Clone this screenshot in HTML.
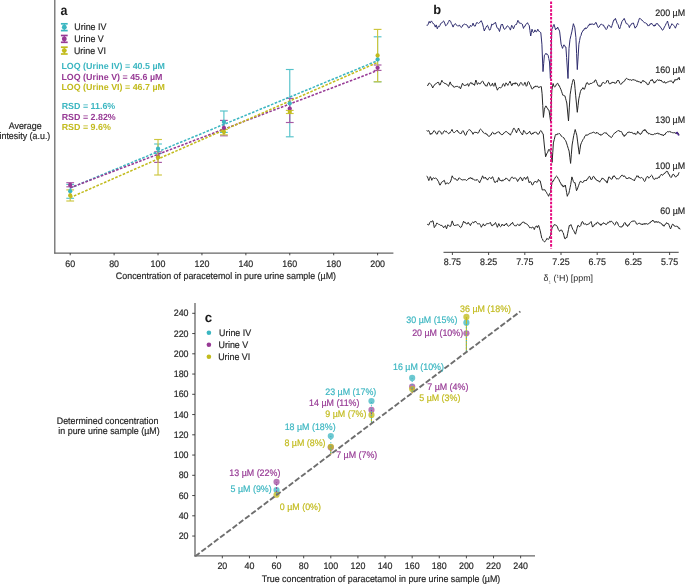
<!DOCTYPE html>
<html><head><meta charset="utf-8"><style>
html,body{margin:0;padding:0;background:#fff;width:685px;height:584px;overflow:hidden;}
svg{display:block;will-change:transform;text-rendering:geometricPrecision;font-family:"Liberation Sans",sans-serif;}
</style></head><body>
<svg width="685" height="584" viewBox="0 0 685 584">
<rect width="685" height="584" fill="#fff"/>
<line x1="54.80" y1="0.00" x2="54.80" y2="253.60" stroke="#666666" stroke-width="1.25" />
<line x1="54.20" y1="253.00" x2="393.40" y2="253.00" stroke="#666666" stroke-width="1.25" />
<line x1="70.20" y1="253.00" x2="70.20" y2="255.30" stroke="#333" stroke-width="0.9" />
<text transform="translate(70.20,266.80) scale(1,1.06)" font-size="8.9" fill="#262626" stroke="#262626" stroke-width="0.18" text-anchor="middle" >60</text>
<line x1="114.11" y1="253.00" x2="114.11" y2="255.30" stroke="#333" stroke-width="0.9" />
<text transform="translate(114.11,266.80) scale(1,1.06)" font-size="8.9" fill="#262626" stroke="#262626" stroke-width="0.18" text-anchor="middle" >80</text>
<line x1="158.03" y1="253.00" x2="158.03" y2="255.30" stroke="#333" stroke-width="0.9" />
<text transform="translate(158.03,266.80) scale(1,1.06)" font-size="8.9" fill="#262626" stroke="#262626" stroke-width="0.18" text-anchor="middle" >100</text>
<line x1="201.94" y1="253.00" x2="201.94" y2="255.30" stroke="#333" stroke-width="0.9" />
<text transform="translate(201.94,266.80) scale(1,1.06)" font-size="8.9" fill="#262626" stroke="#262626" stroke-width="0.18" text-anchor="middle" >120</text>
<line x1="245.86" y1="253.00" x2="245.86" y2="255.30" stroke="#333" stroke-width="0.9" />
<text transform="translate(245.86,266.80) scale(1,1.06)" font-size="8.9" fill="#262626" stroke="#262626" stroke-width="0.18" text-anchor="middle" >140</text>
<line x1="289.77" y1="253.00" x2="289.77" y2="255.30" stroke="#333" stroke-width="0.9" />
<text transform="translate(289.77,266.80) scale(1,1.06)" font-size="8.9" fill="#262626" stroke="#262626" stroke-width="0.18" text-anchor="middle" >160</text>
<line x1="333.69" y1="253.00" x2="333.69" y2="255.30" stroke="#333" stroke-width="0.9" />
<text transform="translate(333.69,266.80) scale(1,1.06)" font-size="8.9" fill="#262626" stroke="#262626" stroke-width="0.18" text-anchor="middle" >180</text>
<line x1="377.60" y1="253.00" x2="377.60" y2="255.30" stroke="#333" stroke-width="0.9" />
<text transform="translate(377.60,266.80) scale(1,1.06)" font-size="8.9" fill="#262626" stroke="#262626" stroke-width="0.18" text-anchor="middle" >200</text>
<text transform="translate(115.85,279.00) scale(1,1.06)" font-size="8.9" fill="#262626" stroke="#262626" stroke-width="0.18" text-anchor="start" >Concentration of paracetemol in pure urine sample (µM)</text>
<text transform="translate(8.70,129.00) scale(1,1.06)" font-size="8.9" fill="#262626" stroke="#262626" stroke-width="0.18" text-anchor="start" >Average</text>
<text transform="translate(-0.50,139.40) scale(1,1.06)" font-size="8.9" fill="#262626" stroke="#262626" stroke-width="0.18" text-anchor="start" >intesity (a.u.)</text>
<text x="60.60" y="15.00" font-size="14" fill="#1a1a1a" text-anchor="start" font-weight="bold" textLength="6.95" lengthAdjust="spacingAndGlyphs">a</text>
<line x1="64.30" y1="23.80" x2="64.30" y2="30.60" stroke="#3bb6c1" stroke-width="1.1" />
<line x1="60.90" y1="23.80" x2="67.70" y2="23.80" stroke="#3bb6c1" stroke-width="1.7" />
<line x1="60.90" y1="30.60" x2="67.70" y2="30.60" stroke="#3bb6c1" stroke-width="1.7" />
<circle cx="64.3" cy="27.20" r="2.45" fill="#3bb6c1"/>
<line x1="64.30" y1="35.50" x2="64.30" y2="42.30" stroke="#973a95" stroke-width="1.1" />
<line x1="60.90" y1="35.50" x2="67.70" y2="35.50" stroke="#973a95" stroke-width="1.7" />
<line x1="60.90" y1="42.30" x2="67.70" y2="42.30" stroke="#973a95" stroke-width="1.7" />
<circle cx="64.3" cy="38.90" r="2.45" fill="#973a95"/>
<line x1="64.30" y1="47.20" x2="64.30" y2="54.00" stroke="#c2bb1d" stroke-width="1.1" />
<line x1="60.90" y1="47.20" x2="67.70" y2="47.20" stroke="#c2bb1d" stroke-width="1.7" />
<line x1="60.90" y1="54.00" x2="67.70" y2="54.00" stroke="#c2bb1d" stroke-width="1.7" />
<circle cx="64.3" cy="50.60" r="2.45" fill="#c2bb1d"/>
<text transform="translate(74.35,29.80) scale(1,1.06)" font-size="8.9" fill="#262626" stroke="#262626" stroke-width="0.18" text-anchor="start" >Urine IV</text>
<text transform="translate(74.15,41.80) scale(1,1.06)" font-size="8.9" fill="#262626" stroke="#262626" stroke-width="0.18" text-anchor="start" >Urine V</text>
<text transform="translate(73.95,53.90) scale(1,1.06)" font-size="8.9" fill="#262626" stroke="#262626" stroke-width="0.18" text-anchor="start" >Urine VI</text>
<text x="61.40" y="69.00" font-size="8.9" fill="#3bb6c1" text-anchor="start" font-weight="bold" >LOQ (Urine IV) = 40.5 µM</text>
<text x="61.40" y="79.50" font-size="8.9" fill="#973a95" text-anchor="start" font-weight="bold" >LOQ (Urine V) = 45.6 µM</text>
<text x="61.40" y="90.00" font-size="8.9" fill="#c2bb1d" text-anchor="start" font-weight="bold" >LOQ (Urine VI) = 46.7 µM</text>
<text x="61.70" y="109.00" font-size="8.9" fill="#3bb6c1" text-anchor="start" font-weight="bold" >RSD = 11.6%</text>
<text x="61.70" y="119.50" font-size="8.9" fill="#973a95" text-anchor="start" font-weight="bold" >RSD = 2.82%</text>
<text x="61.70" y="130.00" font-size="8.9" fill="#c2bb1d" text-anchor="start" font-weight="bold" >RSD = 9.6%</text>
<g stroke="#55c2ca" stroke-width="1.15"><line x1="70.20" y1="184.40" x2="70.20" y2="198.30"/><line x1="66.30" y1="184.40" x2="74.10" y2="184.40"/><line x1="66.30" y1="198.30" x2="74.10" y2="198.30"/></g>
<g stroke="#55c2ca" stroke-width="1.15"><line x1="158.03" y1="144.00" x2="158.03" y2="153.40"/><line x1="154.13" y1="144.00" x2="161.93" y2="144.00"/><line x1="154.13" y1="153.40" x2="161.93" y2="153.40"/></g>
<g stroke="#55c2ca" stroke-width="1.15"><line x1="223.90" y1="111.00" x2="223.90" y2="132.40"/><line x1="220.00" y1="111.00" x2="227.80" y2="111.00"/><line x1="220.00" y1="132.40" x2="227.80" y2="132.40"/></g>
<g stroke="#55c2ca" stroke-width="1.15"><line x1="289.77" y1="69.50" x2="289.77" y2="136.80"/><line x1="285.87" y1="69.50" x2="293.67" y2="69.50"/><line x1="285.87" y1="136.80" x2="293.67" y2="136.80"/></g>
<g stroke="#55c2ca" stroke-width="1.15"><line x1="377.60" y1="36.80" x2="377.60" y2="81.80"/><line x1="373.70" y1="36.80" x2="381.50" y2="36.80"/><line x1="373.70" y1="81.80" x2="381.50" y2="81.80"/></g>
<g stroke="#a658a4" stroke-width="1.15"><line x1="70.20" y1="182.70" x2="70.20" y2="186.80"/><line x1="66.30" y1="182.70" x2="74.10" y2="182.70"/><line x1="66.30" y1="186.80" x2="74.10" y2="186.80"/></g>
<g stroke="#a658a4" stroke-width="1.15"><line x1="158.03" y1="151.80" x2="158.03" y2="162.40"/><line x1="154.13" y1="151.80" x2="161.93" y2="151.80"/><line x1="154.13" y1="162.40" x2="161.93" y2="162.40"/></g>
<g stroke="#a658a4" stroke-width="1.15"><line x1="223.90" y1="120.40" x2="223.90" y2="135.80"/><line x1="220.00" y1="120.40" x2="227.80" y2="120.40"/><line x1="220.00" y1="135.80" x2="227.80" y2="135.80"/></g>
<g stroke="#a658a4" stroke-width="1.15"><line x1="289.77" y1="98.40" x2="289.77" y2="122.50"/><line x1="285.87" y1="98.40" x2="293.67" y2="98.40"/><line x1="285.87" y1="122.50" x2="293.67" y2="122.50"/></g>
<g stroke="#a658a4" stroke-width="1.15"><line x1="377.60" y1="65.00" x2="377.60" y2="70.40"/><line x1="373.70" y1="65.00" x2="381.50" y2="65.00"/><line x1="373.70" y1="70.40" x2="381.50" y2="70.40"/></g>
<g stroke="#cdc63e" stroke-width="1.15"><line x1="70.20" y1="189.90" x2="70.20" y2="201.00"/><line x1="66.30" y1="189.90" x2="74.10" y2="189.90"/><line x1="66.30" y1="201.00" x2="74.10" y2="201.00"/></g>
<g stroke="#cdc63e" stroke-width="1.15"><line x1="158.03" y1="139.50" x2="158.03" y2="175.00"/><line x1="154.13" y1="139.50" x2="161.93" y2="139.50"/><line x1="154.13" y1="175.00" x2="161.93" y2="175.00"/></g>
<g stroke="#cdc63e" stroke-width="1.15"><line x1="223.90" y1="129.50" x2="223.90" y2="134.80"/><line x1="220.00" y1="129.50" x2="227.80" y2="129.50"/><line x1="220.00" y1="134.80" x2="227.80" y2="134.80"/></g>
<g stroke="#cdc63e" stroke-width="1.15"><line x1="289.77" y1="110.40" x2="289.77" y2="113.50"/><line x1="285.87" y1="110.40" x2="293.67" y2="110.40"/><line x1="285.87" y1="113.50" x2="293.67" y2="113.50"/></g>
<g stroke="#cdc63e" stroke-width="1.15"><line x1="377.60" y1="29.40" x2="377.60" y2="81.80"/><line x1="373.70" y1="29.40" x2="381.50" y2="29.40"/><line x1="373.70" y1="81.80" x2="381.50" y2="81.80"/></g>
<line x1="70.20" y1="188.00" x2="377.60" y2="60.70" stroke="#3bb6c1" stroke-width="1.55" stroke-dasharray="2.6 1.5"/>
<line x1="70.20" y1="187.80" x2="377.60" y2="70.50" stroke="#973a95" stroke-width="1.55" stroke-dasharray="2.6 1.5"/>
<line x1="70.20" y1="197.60" x2="377.60" y2="62.40" stroke="#c2bb1d" stroke-width="1.55" stroke-dasharray="2.6 1.5"/>
<circle cx="70.20" cy="191.20" r="2.15" fill="#3bb6c1"/>
<circle cx="158.03" cy="148.70" r="2.15" fill="#3bb6c1"/>
<circle cx="223.90" cy="122.00" r="2.15" fill="#3bb6c1"/>
<circle cx="289.77" cy="103.30" r="2.15" fill="#3bb6c1"/>
<circle cx="377.60" cy="59.40" r="2.15" fill="#3bb6c1"/>
<circle cx="70.20" cy="185.00" r="2.15" fill="#973a95"/>
<circle cx="158.03" cy="157.00" r="2.15" fill="#973a95"/>
<circle cx="223.90" cy="128.00" r="2.15" fill="#973a95"/>
<circle cx="289.77" cy="108.70" r="2.15" fill="#973a95"/>
<circle cx="377.60" cy="67.80" r="2.15" fill="#973a95"/>
<circle cx="70.20" cy="195.40" r="2.15" fill="#c2bb1d"/>
<circle cx="158.03" cy="157.30" r="2.15" fill="#c2bb1d"/>
<circle cx="223.90" cy="132.00" r="2.15" fill="#c2bb1d"/>
<circle cx="289.77" cy="111.90" r="2.15" fill="#c2bb1d"/>
<circle cx="377.60" cy="55.40" r="2.15" fill="#c2bb1d"/>
<text x="433.15" y="14.30" font-size="12.9" fill="#1a1a1a" text-anchor="start" font-weight="bold" >b</text>
<text transform="translate(655.35,15.80) scale(1,1.06)" font-size="8.9" fill="#262626" stroke="#262626" stroke-width="0.18" text-anchor="start" >200 µM</text>
<text transform="translate(655.35,72.70) scale(1,1.06)" font-size="8.9" fill="#262626" stroke="#262626" stroke-width="0.18" text-anchor="start" >160 µM</text>
<text transform="translate(655.35,123.40) scale(1,1.06)" font-size="8.9" fill="#262626" stroke="#262626" stroke-width="0.18" text-anchor="start" >130 µM</text>
<text transform="translate(655.35,168.70) scale(1,1.06)" font-size="8.9" fill="#262626" stroke="#262626" stroke-width="0.18" text-anchor="start" >100 µM</text>
<text transform="translate(660.30,213.80) scale(1,1.06)" font-size="8.9" fill="#262626" stroke="#262626" stroke-width="0.18" text-anchor="start" >60 µM</text>
<polyline points="426.60,25.30 427.25,25.48 427.90,24.90 428.55,23.15 429.20,21.40 430.10,23.10 430.75,21.74 431.40,20.90 432.30,22.30 432.95,23.56 433.60,23.60 434.50,24.90 435.30,27.10 436.20,24.90 437.30,28.80 438.40,26.20 439.40,26.60 440.00,25.30 440.60,23.60 441.70,23.10 442.60,21.80 443.60,20.90 444.70,23.10 445.60,25.80 446.70,24.90 447.35,24.33 448.00,22.70 448.65,21.81 449.30,20.10 450.00,20.94 450.70,21.40 451.35,23.46 452.00,24.50 453.10,27.10 454.20,24.50 454.85,24.23 455.50,23.60 456.15,24.90 456.80,25.30 457.45,25.95 458.10,26.20 458.75,25.76 459.40,24.90 460.30,26.65 461.20,27.50 462.05,26.93 462.90,24.90 463.80,24.69 464.70,24.00 465.55,24.56 466.40,24.50 467.05,25.74 467.70,25.80 468.35,27.71 469.00,28.00 469.70,27.20 470.40,25.30 471.05,26.18 471.70,26.20 472.35,25.48 473.00,23.10 474.10,25.80 475.20,26.20 475.85,24.45 476.50,22.70 477.15,22.88 477.80,22.70 478.55,23.45 479.30,22.70 479.97,22.39 480.63,21.12 481.30,20.70 481.95,22.35 482.60,24.00 483.45,27.50 484.30,31.00 485.10,29.02 485.90,27.50 486.70,26.03 487.50,25.30 488.13,26.90 488.77,28.50 489.40,30.10 490.05,29.97 490.70,28.40 491.80,24.00 492.90,24.90 493.55,24.28 494.20,23.10 494.85,23.26 495.50,22.30 496.15,24.70 496.80,27.10 497.55,28.35 498.30,28.40 498.90,29.95 499.50,31.50 500.35,28.00 501.20,24.50 501.80,24.66 502.40,24.00 503.00,26.00 503.60,28.00 504.30,29.18 505.00,29.30 505.77,28.33 506.53,26.77 507.30,25.80 508.00,26.16 508.70,27.10 509.55,27.97 510.40,30.10 511.05,27.70 511.70,25.30 512.60,26.60 513.50,28.80 514.15,27.05 514.80,25.30 515.65,24.53 516.50,24.50 517.20,22.40 517.90,20.30 518.55,21.14 519.20,23.10 520.05,22.88 520.90,23.60 521.55,23.44 522.20,24.00 522.85,26.20 523.50,28.40 524.23,26.39 524.97,26.44 525.70,24.50 526.60,23.92 527.50,22.70 528.35,24.55 529.20,25.30 529.95,30.65 530.70,36.00 531.35,32.60 532.00,29.20 532.70,31.42 533.40,32.60 534.20,32.01 535.00,29.90 535.70,31.56 536.40,31.90 537.10,30.90 537.80,29.20 538.50,31.04 539.20,31.20 540.00,32.13 540.80,32.60 541.90,44.20 543.00,71.60 543.70,63.40 544.40,55.20 545.20,54.64 546.00,53.20 546.70,54.55 547.40,54.28 548.10,55.20 548.80,58.60 549.50,62.00 550.40,78.50 551.10,53.85 551.80,29.20 552.53,28.09 553.27,25.82 554.00,24.40 554.80,27.15 555.60,29.90 556.30,28.35 557.00,28.72 557.70,27.10 558.37,29.25 559.03,29.54 559.70,31.90 560.40,38.05 561.10,44.20 561.80,46.30 562.50,48.40 563.15,46.65 563.80,44.90 564.50,45.23 565.20,46.94 565.90,47.00 566.60,57.50 567.30,68.00 568.00,78.50 569.00,48.40 570.00,39.50 570.90,35.70 571.80,31.90 572.60,27.80 573.40,23.70 574.10,25.75 574.80,27.80 575.90,37.40 576.60,53.50 577.30,69.60 578.10,56.90 578.90,44.20 579.60,40.45 580.30,36.70 580.97,35.67 581.63,32.94 582.30,31.90 583.00,30.30 583.70,30.37 584.40,28.50 585.08,29.14 585.75,27.67 586.42,28.59 587.10,27.80 587.80,26.64 588.50,25.10 589.17,25.39 589.85,23.80 590.53,24.90 591.20,23.70 591.90,24.60 592.60,23.70 593.30,24.65 594.00,24.40 594.67,24.32 595.33,22.83 596.00,22.30 596.70,24.05 597.40,25.80 598.30,27.60 599.17,26.97 600.03,25.13 600.90,24.30 601.77,24.30 602.63,24.96 603.50,25.00 604.17,26.84 604.85,27.06 605.53,28.77 606.20,29.60 607.07,28.49 607.93,25.77 608.80,25.00 609.67,25.66 610.53,27.20 611.40,27.60 612.07,25.40 612.73,23.20 613.40,21.00 614.07,19.60 614.73,20.04 615.40,18.40 616.03,20.17 616.67,21.93 617.30,23.70 618.10,24.71 618.90,27.92 619.70,28.90 620.43,26.50 621.17,24.10 621.90,21.70 622.67,20.26 623.43,19.94 624.20,18.40 624.90,20.17 625.60,21.93 626.30,23.70 627.05,23.60 627.80,24.30 628.60,25.18 629.40,27.60 630.10,25.48 630.80,25.26 631.50,23.70 632.13,23.74 632.77,22.92 633.40,23.00 634.25,25.60 635.10,28.20 635.73,27.02 636.37,26.96 637.00,25.60 637.80,23.20 638.60,20.80 639.40,18.40 640.30,18.49 641.20,19.70 642.00,20.03 642.80,21.19 643.60,21.70 644.47,22.81 645.33,22.62 646.20,23.70 647.00,23.79 647.80,25.78 648.60,25.60 649.33,25.58 650.05,23.79 650.77,24.23 651.50,23.00 652.37,24.72 653.23,25.01 654.10,26.30 654.77,24.87 655.45,25.70 656.12,23.59 656.80,23.70 657.67,23.62 658.53,25.39 659.40,25.60 660.23,27.18 661.05,27.68 661.88,29.64 662.70,30.20 663.57,28.86 664.43,26.94 665.30,25.60 666.03,23.77 666.77,22.80 667.50,21.00 668.20,23.63 668.90,26.27 669.60,28.90 670.37,26.78 671.13,25.62 671.90,23.70 672.53,24.48 673.17,24.71 673.80,25.60 674.60,26.68 675.40,28.20 676.25,25.95 677.10,23.70 677.77,23.50 678.43,24.27 679.10,24.30" fill="none" stroke="#2e2c6e" stroke-width="1.0" stroke-linejoin="round"/>
<polyline points="427.20,85.40 427.97,85.43 428.73,83.35 429.50,83.20 430.25,83.60 431.00,84.50 431.85,85.92 432.70,88.00 433.60,86.11 434.50,85.00 435.35,83.90 436.20,83.60 437.10,82.71 438.00,82.30 438.70,82.46 439.40,84.95 440.10,85.00 441.00,82.65 441.90,80.30 442.55,81.78 443.20,82.30 444.10,83.24 445.00,83.20 445.85,83.86 446.70,84.10 447.60,85.42 448.50,86.30 449.35,84.10 450.20,81.90 450.85,83.84 451.50,85.00 452.15,85.54 452.80,85.40 453.50,87.03 454.20,87.20 455.05,87.01 455.90,86.30 456.80,86.47 457.70,86.30 458.55,87.32 459.40,86.70 460.50,88.90 461.17,87.00 461.83,85.10 462.50,83.20 463.35,84.82 464.20,85.40 465.10,85.45 466.00,85.00 466.85,84.83 467.70,83.60 468.60,86.30 469.50,84.38 470.40,82.80 471.13,82.41 471.87,83.90 472.60,83.20 473.23,84.69 473.87,84.03 474.50,85.40 475.20,82.70 475.90,80.00 476.65,82.25 477.40,84.50 478.05,83.32 478.70,82.80 479.80,84.10 480.67,83.47 481.53,81.77 482.40,81.00 483.25,81.86 484.10,84.10 484.78,84.13 485.45,85.90 486.12,85.37 486.80,86.30 487.65,83.99 488.50,82.30 489.23,82.75 489.97,85.47 490.70,85.80 491.60,85.25 492.50,83.20 493.15,85.46 493.80,86.30 494.45,84.55 495.10,82.80 496.00,86.30 496.70,88.25 497.40,90.20 498.20,88.38 499.00,88.00 499.73,87.20 500.47,88.04 501.20,87.60 501.93,86.78 502.67,84.53 503.40,83.60 504.05,84.78 504.70,86.30 505.35,84.55 506.00,82.80 506.90,83.93 507.80,85.40 508.53,83.65 509.27,82.93 510.00,81.20 510.85,83.50 511.70,85.80 512.35,85.13 513.00,83.20 513.70,84.08 514.40,82.86 515.10,84.19 515.80,82.60 516.50,83.50 517.23,83.55 517.97,85.64 518.70,86.10 519.43,85.14 520.17,83.26 520.90,82.30 521.63,83.05 522.37,84.66 523.10,85.40 524.00,84.44 524.90,82.30 525.60,84.30 526.30,86.30 527.00,85.48 527.70,82.36 528.40,81.50 529.13,82.31 529.87,84.71 530.60,85.40 531.45,88.01 532.30,89.20 533.20,88.11 534.10,86.60 534.97,87.21 535.83,85.81 536.70,86.60 537.57,86.07 538.43,87.61 539.30,87.10 539.97,87.42 540.63,86.49 541.30,86.60 542.10,93.80 542.75,105.60 543.40,117.40 544.40,109.20 545.00,107.65 545.60,106.10 546.23,106.10 546.87,107.88 547.50,108.20 548.25,109.91 549.00,110.20 549.80,115.85 550.60,121.50 551.20,106.10 551.80,90.70 552.45,87.10 553.10,83.50 553.90,86.13 554.70,87.10 555.53,86.33 556.37,84.27 557.20,83.50 557.90,83.39 558.60,85.56 559.30,85.60 560.05,87.67 560.80,89.20 561.50,91.23 562.20,93.27 562.90,95.30 563.57,95.23 564.23,95.89 564.90,95.80 565.53,98.20 566.17,100.60 566.80,103.00 567.65,112.00 568.50,121.00 569.30,107.90 570.10,94.80 570.85,90.20 571.60,85.60 572.40,82.50 573.20,79.40 573.80,79.62 574.40,81.40 575.05,88.60 575.70,95.80 576.50,104.05 577.30,112.30 578.05,105.60 578.80,98.90 579.60,95.30 580.40,91.70 581.23,89.62 582.07,89.22 582.90,87.60 583.70,89.13 584.50,89.20 585.17,87.13 585.83,85.07 586.50,83.00 587.37,82.50 588.23,84.28 589.10,84.00 589.97,84.23 590.83,83.13 591.70,83.50 592.37,82.76 593.03,82.66 593.70,82.00 594.40,82.13 595.10,80.00 595.80,79.90 596.47,81.60 597.13,83.30 597.80,85.00 598.53,86.12 599.27,85.40 600.00,86.80 600.73,85.30 601.45,85.46 602.17,82.92 602.90,82.60 603.77,82.50 604.63,83.33 605.50,83.20 606.17,82.49 606.83,80.75 607.50,80.00 608.17,80.74 608.83,82.93 609.50,83.90 610.30,83.84 611.10,82.66 611.90,83.19 612.70,81.90 613.38,82.62 614.05,82.08 614.73,83.43 615.40,83.20 616.27,82.98 617.13,80.76 618.00,80.20 618.87,80.74 619.73,83.37 620.60,84.20 621.47,84.09 622.33,82.42 623.20,82.30 623.98,81.16 624.75,80.81 625.52,79.10 626.30,78.40 627.17,78.55 628.03,79.71 628.90,79.30 629.77,80.00 630.63,79.69 631.50,80.60 632.27,79.51 633.03,80.27 633.80,79.30 634.67,80.34 635.53,80.12 636.40,81.30 637.27,80.76 638.13,82.00 639.00,81.30 639.67,82.16 640.33,82.02 641.00,83.20 641.67,81.88 642.33,81.54 643.00,80.20 643.87,81.69 644.73,81.29 645.60,82.60 646.47,82.72 647.33,84.62 648.20,84.60 648.87,84.29 649.53,81.94 650.20,81.30 650.87,80.05 651.53,80.47 652.20,79.30 652.83,81.11 653.47,81.27 654.10,83.20 654.77,82.08 655.45,82.42 656.12,80.77 656.80,80.60 657.67,79.49 658.53,80.64 659.40,79.70 660.23,81.01 661.05,79.99 661.88,81.68 662.70,81.90 663.53,82.62 664.35,81.44 665.17,83.16 666.00,82.60 666.87,82.61 667.73,81.90 668.60,81.90 669.47,81.01 670.33,81.23 671.20,80.60 671.87,81.79 672.53,82.13 673.20,83.20 673.83,81.28 674.47,81.30 675.10,79.30 675.77,80.31 676.43,79.51 677.10,80.00 677.77,78.45 678.43,78.81 679.10,77.30 679.70,80.00" fill="none" stroke="#262626" stroke-width="1.0" stroke-linejoin="round"/>
<polyline points="426.60,130.60 427.25,131.05 427.90,131.00 428.80,130.60 429.55,132.55 430.30,134.50 430.97,133.17 431.63,134.19 432.30,132.80 433.03,132.50 433.77,130.78 434.50,131.00 435.27,131.60 436.03,133.56 436.80,134.10 437.47,133.98 438.13,131.43 438.80,131.20 439.45,131.09 440.10,131.50 440.77,131.98 441.43,133.88 442.10,134.30 442.77,133.59 443.43,131.81 444.10,131.00 444.83,130.69 445.57,131.79 446.30,131.20 447.10,132.36 447.90,133.20 448.53,133.74 449.17,132.74 449.80,133.20 450.53,131.77 451.27,131.05 452.00,129.40 452.85,131.59 453.70,132.60 454.60,132.56 455.50,131.50 456.35,131.00 457.20,130.10 458.10,132.04 459.00,132.30 459.85,133.60 460.70,133.50 461.43,133.36 462.17,131.34 462.90,130.60 463.77,131.86 464.63,133.98 465.50,135.40 466.23,134.63 466.97,132.13 467.70,131.00 468.60,130.11 469.50,129.70 470.35,130.15 471.20,131.50 472.10,132.11 473.00,134.30 473.85,132.58 474.70,132.30 475.38,132.19 476.05,133.00 476.72,132.18 477.40,133.20 478.00,133.20 478.83,132.38 479.67,129.83 480.50,129.10 481.13,129.52 481.77,130.56 482.40,131.00 483.25,132.58 484.10,132.90 484.78,133.57 485.45,133.15 486.12,134.38 486.80,133.80 487.65,135.54 488.50,136.10 489.37,136.44 490.23,135.16 491.10,135.00 491.80,132.90 492.50,132.30 493.20,132.60 493.90,134.05 494.60,133.80 495.33,133.97 496.07,132.81 496.80,132.90 497.70,131.86 498.60,131.90 499.35,132.05 500.10,133.80 500.77,133.76 501.43,134.64 502.10,134.70 502.95,134.32 503.80,132.90 504.53,132.75 505.27,131.74 506.00,131.50 506.73,131.70 507.47,132.62 508.20,132.90 508.93,133.96 509.67,134.06 510.40,135.20 511.20,133.39 512.00,132.30 512.75,130.35 513.50,128.40 514.15,128.22 514.80,129.40 515.65,130.80 516.50,132.90 517.17,130.77 517.83,129.91 518.50,128.00 519.60,131.00 520.25,131.56 520.90,132.90 521.70,133.79 522.50,135.00 523.10,132.65 523.70,130.30 524.53,131.14 525.37,132.79 526.20,133.80 527.05,134.01 527.90,132.90 528.80,132.59 529.70,131.20 530.35,132.93 531.00,134.10 532.10,134.20 532.77,133.02 533.43,133.60 534.10,132.10 534.80,132.56 535.50,131.84 536.20,132.80 536.87,132.81 537.53,134.23 538.20,134.20 539.07,133.73 539.93,131.37 540.80,130.60 541.60,131.16 542.40,133.36 543.20,133.80 543.80,139.90 544.40,146.00 545.00,151.40 545.60,156.80 546.30,155.00 547.00,153.20 547.75,152.24 548.50,149.60 549.10,149.99 549.70,149.60 550.40,151.90 551.10,154.20 552.10,162.40 552.75,152.65 553.40,142.90 554.30,139.30 555.20,135.70 555.87,134.33 556.53,135.08 557.20,133.80 558.07,134.40 558.93,133.37 559.80,133.80 560.55,134.61 561.30,136.20 562.17,136.55 563.03,137.51 563.90,137.80 564.77,139.70 565.63,140.53 566.50,142.90 567.37,145.63 568.23,148.37 569.10,151.10 569.85,157.25 570.60,163.40 571.35,154.20 572.10,145.00 572.90,140.35 573.70,135.70 574.45,132.60 575.20,129.50 576.00,132.35 576.80,135.20 577.55,141.10 578.30,147.00 579.30,154.20 579.95,149.60 580.60,145.00 581.50,142.57 582.40,140.80 583.17,139.26 583.95,138.46 584.73,136.24 585.50,135.70 586.20,134.61 586.90,135.65 587.60,134.70 588.35,134.65 589.10,133.58 589.85,133.86 590.60,133.10 591.38,133.32 592.15,132.34 592.93,132.81 593.70,132.10 594.35,132.68 595.00,132.60 595.87,133.62 596.73,132.17 597.60,133.20 598.42,133.24 599.25,134.67 600.08,134.10 600.90,135.50 601.77,134.37 602.63,134.37 603.50,133.20 604.17,133.20 604.85,132.48 605.53,133.23 606.20,132.60 607.07,134.20 607.93,134.51 608.80,135.90 609.67,135.96 610.53,137.19 611.40,137.60 612.07,136.93 612.73,135.39 613.40,134.60 614.27,133.27 615.13,132.98 616.00,131.90 616.87,131.63 617.73,130.67 618.60,130.60 619.27,130.61 619.95,131.81 620.62,131.05 621.30,131.90 622.02,132.37 622.75,134.81 623.48,134.70 624.20,136.50 624.95,134.91 625.70,135.27 626.45,133.65 627.20,133.20 628.07,131.93 628.93,132.59 629.80,131.90 630.62,132.88 631.45,131.95 632.27,133.06 633.10,133.20 633.92,134.18 634.75,132.93 635.58,134.54 636.40,134.20 637.05,133.41 637.70,131.30 638.57,133.12 639.43,133.25 640.30,134.60 640.97,133.26 641.65,133.45 642.33,131.39 643.00,131.30 643.63,129.92 644.27,130.70 644.90,129.30 645.57,130.96 646.23,130.73 646.90,132.60 647.73,132.37 648.55,134.04 649.38,133.49 650.20,134.20 651.07,134.16 651.93,134.71 652.80,134.60 653.62,134.65 654.45,133.68 655.27,134.29 656.10,133.20 656.92,133.84 657.75,132.81 658.58,134.09 659.40,133.60 660.18,134.69 660.96,134.03 661.74,135.13 662.52,134.73 663.30,135.90 664.12,134.40 664.95,134.75 665.77,132.90 666.60,132.60 667.47,131.56 668.33,131.93 669.20,131.30 670.03,132.29 670.85,131.62 671.67,132.48 672.50,132.60 673.33,133.09 674.15,132.24 674.97,133.34 675.80,133.20 676.47,133.67 677.13,131.97 677.80,132.60 678.45,133.40 679.10,135.20" fill="none" stroke="#262626" stroke-width="1.0" stroke-linejoin="round"/>
<polyline points="426.60,176.20 427.40,176.60 428.10,178.60 428.80,180.60 429.55,178.60 430.30,176.60 431.05,178.03 431.80,180.30 432.45,178.66 433.10,178.00 433.80,177.77 434.50,178.80 435.35,177.91 436.20,178.40 437.10,179.12 438.00,181.00 438.67,181.80 439.33,184.00 440.00,185.20 440.75,184.00 441.50,182.30 442.35,181.98 443.20,181.00 444.30,180.30 444.95,182.30 445.60,184.30 446.40,183.08 447.20,183.20 447.90,182.84 448.60,183.75 449.30,183.20 450.05,182.26 450.80,181.00 451.50,178.40 452.20,175.80 452.95,177.29 453.70,178.40 454.60,178.84 455.50,178.60 456.35,180.07 457.20,180.30 457.93,180.17 458.67,178.14 459.40,178.00 460.30,178.50 461.20,179.70 462.05,179.49 462.90,180.30 463.80,179.52 464.70,179.70 465.55,179.67 466.40,180.60 467.30,179.72 468.20,179.30 469.00,177.92 469.80,178.39 470.60,177.50 471.27,178.93 471.93,177.89 472.60,179.30 473.47,179.27 474.33,180.04 475.20,179.70 476.07,180.62 476.93,179.27 477.80,180.30 478.70,181.14 479.60,182.90 480.35,180.96 481.10,179.70 481.85,177.75 482.60,175.80 483.70,178.40 484.55,178.05 485.40,177.10 486.13,178.91 486.87,178.80 487.60,180.10 488.50,178.24 489.40,177.50 490.25,177.90 491.10,178.80 491.90,177.28 492.70,176.80 493.33,178.63 493.97,180.47 494.60,182.30 495.50,182.47 496.40,181.00 497.40,181.90 498.00,179.70 498.60,177.50 499.45,179.01 500.30,181.00 501.07,180.18 501.85,181.31 502.62,179.93 503.40,180.60 504.17,179.41 504.95,179.81 505.73,178.17 506.50,178.40 507.15,178.56 507.80,179.70 508.60,180.28 509.40,181.20 510.10,179.65 510.80,178.40 511.50,177.26 512.20,177.10 512.85,177.48 513.50,178.80 514.15,178.04 514.80,178.00 515.65,178.15 516.50,178.80 517.60,181.50 518.30,180.54 519.00,178.80 519.63,178.74 520.27,177.20 520.90,177.50 521.70,179.10 522.50,181.00 523.25,178.57 524.00,177.50 524.85,177.71 525.70,179.40 526.60,177.77 527.50,176.60 528.35,179.70 529.20,182.80 529.90,181.55 530.60,181.90 531.27,182.28 531.93,184.75 532.60,185.00 533.35,183.85 534.10,182.00 534.85,181.91 535.60,181.00 536.25,182.18 536.90,182.50 537.65,181.80 538.40,179.40 539.30,180.71 540.20,180.90 540.90,183.97 541.60,187.03 542.30,190.10 543.13,189.53 543.97,190.22 544.80,189.60 545.60,191.24 546.40,192.20 547.13,193.75 547.87,194.71 548.60,196.30 549.50,193.77 550.40,192.70 551.20,187.60 552.00,182.50 552.67,181.12 553.33,181.24 554.00,179.40 554.80,178.62 555.60,176.86 556.40,176.10 557.25,176.74 558.10,178.40 558.97,179.65 559.83,181.88 560.70,183.00 561.53,185.19 562.37,184.96 563.20,187.10 563.90,185.68 564.60,186.29 565.30,185.00 565.97,188.77 566.63,192.53 567.30,196.30 568.05,194.21 568.80,193.70 569.43,190.63 570.07,187.57 570.70,184.50 571.30,180.70 571.90,176.90 572.65,179.20 573.40,181.50 574.20,182.81 575.00,182.50 575.75,186.60 576.50,190.70 577.25,189.43 578.00,187.10 578.70,185.23 579.40,183.37 580.10,181.50 580.93,181.18 581.77,182.35 582.60,182.50 583.40,182.11 584.20,180.40 584.87,181.03 585.53,180.06 586.20,180.90 586.98,179.15 587.75,178.95 588.52,177.27 589.30,176.30 589.97,176.70 590.63,178.94 591.30,179.90 592.00,179.18 592.70,177.11 593.40,176.30 594.07,176.64 594.73,178.37 595.40,178.40 596.20,180.03 597.00,180.00 597.87,181.07 598.73,180.86 599.60,182.20 600.47,180.41 601.33,179.87 602.20,177.90 602.88,178.85 603.55,178.68 604.23,179.74 604.90,180.00 605.63,181.33 606.37,181.28 607.10,183.10 607.95,180.00 608.80,176.90 609.67,177.17 610.53,178.74 611.40,179.20 612.08,179.08 612.75,176.55 613.42,176.96 614.10,175.60 614.97,177.05 615.83,177.72 616.70,179.20 617.57,178.65 618.43,178.92 619.30,178.20 620.17,177.41 621.03,175.88 621.90,175.20 622.67,175.29 623.45,176.60 624.23,175.70 625.00,176.90 625.75,177.23 626.50,178.90 627.17,178.21 627.85,178.84 628.53,177.63 629.20,177.90 630.07,177.82 630.93,178.95 631.80,178.90 632.67,179.76 633.53,179.89 634.40,180.90 635.27,178.31 636.13,177.60 637.00,175.60 637.67,176.60 638.35,176.01 639.03,177.85 639.70,177.60 640.57,178.00 641.43,177.46 642.30,177.90 643.10,178.78 643.90,180.73 644.70,181.50 645.43,180.43 646.17,177.62 646.90,176.90 647.77,176.39 648.63,178.13 649.50,177.60 650.17,176.97 650.83,175.83 651.50,175.20 652.37,175.89 653.23,178.64 654.10,179.20 654.77,179.43 655.45,178.14 656.12,178.60 656.80,178.20 657.67,178.42 658.53,177.00 659.40,177.60 660.05,175.67 660.70,175.20 661.57,174.15 662.43,175.43 663.30,174.30 664.04,174.02 664.78,172.87 665.52,172.76 666.26,171.38 667.00,171.30 667.73,171.67 668.47,174.11 669.20,174.30 670.05,176.61 670.90,177.60 671.67,177.10 672.43,174.71 673.20,174.30 674.07,174.70 674.93,176.57 675.80,176.90 676.47,176.64 677.13,175.34 677.80,175.60 678.45,173.95 679.10,172.30" fill="none" stroke="#262626" stroke-width="1.0" stroke-linejoin="round"/>
<polyline points="427.20,224.10 428.00,224.86 428.80,225.00 429.80,222.50 430.60,221.51 431.40,222.10 432.20,220.90 433.00,220.90 433.65,224.25 434.30,227.60 434.95,226.44 435.60,226.00 436.20,224.50 436.80,223.00 437.70,223.46 438.60,224.40 439.45,224.52 440.30,225.30 441.20,225.05 442.10,226.00 442.85,226.26 443.60,227.80 444.50,226.47 445.40,225.60 446.50,228.80 447.20,226.75 447.90,224.70 448.60,225.55 449.30,226.00 450.00,226.62 450.70,226.20 451.45,223.55 452.20,220.90 452.95,222.95 453.70,225.00 454.43,225.76 455.17,224.98 455.90,225.60 456.53,224.89 457.17,225.37 457.80,224.40 458.60,225.36 459.40,226.00 460.05,227.16 460.70,227.60 461.35,227.07 462.00,225.60 462.80,223.40 463.60,221.20 464.35,222.47 465.10,222.10 465.85,223.55 466.60,223.80 467.40,223.82 468.20,222.30 468.93,223.88 469.67,224.19 470.40,225.60 471.05,223.98 471.70,223.00 472.55,222.18 473.40,223.00 474.13,221.76 474.87,222.17 475.60,221.20 476.50,222.57 477.40,223.60 478.20,224.27 479.00,223.31 479.80,224.10 480.55,225.26 481.30,227.30 481.97,225.80 482.63,225.58 483.30,223.80 484.15,225.50 485.00,225.60 485.90,224.81 486.80,223.40 487.65,223.67 488.50,223.60 489.40,223.34 490.30,222.30 490.95,223.95 491.60,225.60 492.33,225.84 493.07,224.57 493.80,225.00 494.65,223.46 495.50,222.50 496.13,224.10 496.77,225.70 497.40,227.30 498.10,225.45 498.80,223.60 499.70,225.86 500.60,226.70 501.35,226.07 502.10,224.10 502.83,225.24 503.57,225.07 504.30,226.00 505.03,224.24 505.77,224.50 506.50,223.20 507.35,225.42 508.20,226.20 508.87,226.21 509.53,225.29 510.20,225.30 511.00,223.62 511.80,223.66 512.60,222.30 513.25,224.32 513.90,224.70 514.53,225.70 515.17,225.42 515.80,226.20 516.60,224.94 517.40,224.30 518.30,224.61 519.20,225.80 519.83,224.38 520.47,225.01 521.10,223.40 521.87,223.22 522.63,222.11 523.40,222.10 524.17,222.17 524.93,223.67 525.70,223.20 526.43,224.05 527.17,224.21 527.90,225.00 528.80,226.21 529.70,227.80 530.60,227.52 531.50,228.10 532.30,226.97 533.10,227.40 533.70,227.73 534.30,229.60 535.20,227.19 536.10,226.10 536.75,226.00 537.40,227.60 538.05,225.75 538.70,225.50 539.45,228.10 540.20,230.70 541.00,234.50 541.80,238.30 542.47,238.95 543.13,240.65 543.80,241.40 544.55,241.96 545.30,240.90 546.10,240.27 546.90,238.30 547.65,238.97 548.40,239.30 549.07,238.75 549.73,236.55 550.40,235.80 551.20,231.95 552.00,228.10 552.77,226.49 553.53,226.08 554.30,224.50 555.07,225.10 555.83,225.01 556.60,225.50 557.43,226.89 558.27,229.36 559.10,230.70 559.80,231.32 560.50,230.06 561.20,230.10 561.87,230.14 562.53,232.13 563.20,232.70 563.95,235.65 564.70,238.60 565.40,238.73 566.10,237.34 566.80,237.80 567.63,233.70 568.47,229.60 569.30,225.50 570.10,225.73 570.90,224.50 571.57,226.20 572.23,227.90 572.90,229.60 573.77,230.68 574.63,232.85 575.50,234.20 576.27,231.30 577.03,228.40 577.80,225.50 578.50,225.39 579.20,226.64 579.90,226.60 580.70,225.69 581.50,222.91 582.30,221.50 582.93,221.93 583.57,223.94 584.20,224.00 584.95,224.25 585.70,223.71 586.45,224.94 587.20,224.30 587.90,224.79 588.60,223.72 589.30,223.70 590.20,222.43 591.10,221.50 591.80,224.30 592.50,227.10 593.13,226.04 593.77,226.16 594.40,224.50 595.07,224.66 595.73,223.49 596.40,224.00 597.00,222.37 597.60,222.30 598.42,222.71 599.25,224.24 600.08,223.88 600.90,225.50 601.77,223.95 602.63,223.90 603.50,222.60 604.17,223.75 604.85,223.23 605.53,224.44 606.20,224.60 607.03,223.93 607.85,222.27 608.67,222.92 609.50,221.30 610.37,222.09 611.23,220.89 612.10,221.90 612.97,222.77 613.83,224.28 614.70,225.00 615.37,224.45 616.03,222.11 616.70,221.90 617.57,222.62 618.43,225.39 619.30,226.50 620.17,227.06 621.03,226.52 621.90,227.20 622.58,225.55 623.25,225.70 623.92,223.47 624.60,222.60 625.35,222.86 626.10,225.22 626.85,224.80 627.60,226.50 628.33,224.83 629.05,225.13 629.77,223.20 630.50,222.60 631.37,221.56 632.23,221.67 633.10,220.60 633.77,221.53 634.43,220.86 635.10,221.30 635.73,221.98 636.37,223.91 637.00,224.20 637.67,224.22 638.35,223.40 639.03,223.47 639.70,223.00 640.57,224.20 641.43,223.96 642.30,225.00 643.17,223.56 644.03,224.57 644.90,223.20 645.58,224.29 646.25,223.36 646.92,224.16 647.60,224.20 648.47,223.98 649.33,222.83 650.20,222.90 651.07,221.29 651.93,221.43 652.80,220.00 653.47,221.18 654.13,221.29 654.80,222.60 655.47,221.58 656.13,222.36 656.80,221.30 657.67,222.51 658.53,221.62 659.40,222.90 660.27,222.62 661.13,223.80 662.00,223.90 662.67,225.44 663.33,225.14 664.00,226.30 664.87,224.52 665.73,224.24 666.60,222.60 667.27,223.70 667.93,223.18 668.60,223.90 669.23,225.57 669.87,227.23 670.50,228.90 671.17,227.66 671.83,225.44 672.50,224.20 673.37,224.51 674.23,226.10 675.10,225.90 675.77,226.60 676.45,225.82 677.12,226.78 677.80,226.50 678.57,228.31 679.33,227.93 680.10,229.40" fill="none" stroke="#262626" stroke-width="1.0" stroke-linejoin="round"/>
<polyline points="675.9,133.3 676.9,132.4 677.6,133.5 678.7,135.5" fill="none" stroke="#4a2394" stroke-width="1.4" stroke-linejoin="round"/>
<line x1="551.10" y1="1.50" x2="551.10" y2="248.50" stroke="#e6097f" stroke-width="2.0" stroke-dasharray="2.6 1.25"/>
<line x1="443.50" y1="252.30" x2="678.70" y2="252.30" stroke="#666666" stroke-width="1.3" />
<line x1="452.40" y1="252.30" x2="452.40" y2="255.00" stroke="#333" stroke-width="0.9" />
<text transform="translate(452.40,264.70) scale(1,1.06)" font-size="8.9" fill="#262626" stroke="#262626" stroke-width="0.18" text-anchor="middle" >8.75</text>
<line x1="488.60" y1="252.30" x2="488.60" y2="255.00" stroke="#333" stroke-width="0.9" />
<text transform="translate(488.60,264.70) scale(1,1.06)" font-size="8.9" fill="#262626" stroke="#262626" stroke-width="0.18" text-anchor="middle" >8.25</text>
<line x1="524.80" y1="252.30" x2="524.80" y2="255.00" stroke="#333" stroke-width="0.9" />
<text transform="translate(524.80,264.70) scale(1,1.06)" font-size="8.9" fill="#262626" stroke="#262626" stroke-width="0.18" text-anchor="middle" >7.75</text>
<line x1="561.00" y1="252.30" x2="561.00" y2="255.00" stroke="#333" stroke-width="0.9" />
<text transform="translate(561.00,264.70) scale(1,1.06)" font-size="8.9" fill="#262626" stroke="#262626" stroke-width="0.18" text-anchor="middle" >7.25</text>
<line x1="597.20" y1="252.30" x2="597.20" y2="255.00" stroke="#333" stroke-width="0.9" />
<text transform="translate(597.20,264.70) scale(1,1.06)" font-size="8.9" fill="#262626" stroke="#262626" stroke-width="0.18" text-anchor="middle" >6.75</text>
<line x1="633.40" y1="252.30" x2="633.40" y2="255.00" stroke="#333" stroke-width="0.9" />
<text transform="translate(633.40,264.70) scale(1,1.06)" font-size="8.9" fill="#262626" stroke="#262626" stroke-width="0.18" text-anchor="middle" >6.25</text>
<line x1="669.60" y1="252.30" x2="669.60" y2="255.00" stroke="#333" stroke-width="0.9" />
<text transform="translate(669.60,264.70) scale(1,1.06)" font-size="8.9" fill="#262626" stroke="#262626" stroke-width="0.18" text-anchor="middle" >5.75</text>
<text x="543.5" y="281.3" font-size="8.9" fill="#262626">δ<tspan font-size="4.6" dy="2.2" fill="#888">1</tspan><tspan dy="-2.2"> (</tspan><tspan font-size="4.6" dy="-3.2">1</tspan><tspan dy="3.2">H) [ppm]</tspan></text>
<line x1="195.00" y1="303.00" x2="195.00" y2="556.50" stroke="#666666" stroke-width="1.3" />
<line x1="194.40" y1="555.90" x2="535.00" y2="555.90" stroke="#666666" stroke-width="1.3" />
<line x1="192.20" y1="536.05" x2="195.00" y2="536.05" stroke="#333" stroke-width="0.9" />
<text transform="translate(178.65,539.05) scale(1,1.06)" font-size="8.9" fill="#262626" stroke="#262626" stroke-width="0.18" text-anchor="start" >20</text>
<line x1="222.32" y1="555.90" x2="222.32" y2="558.30" stroke="#333" stroke-width="0.9" />
<text transform="translate(222.32,569.20) scale(1,1.06)" font-size="8.9" fill="#262626" stroke="#262626" stroke-width="0.18" text-anchor="middle" >20</text>
<line x1="192.20" y1="515.80" x2="195.00" y2="515.80" stroke="#333" stroke-width="0.9" />
<text transform="translate(178.65,518.80) scale(1,1.06)" font-size="8.9" fill="#262626" stroke="#262626" stroke-width="0.18" text-anchor="start" >40</text>
<line x1="249.44" y1="555.90" x2="249.44" y2="558.30" stroke="#333" stroke-width="0.9" />
<text transform="translate(249.44,569.20) scale(1,1.06)" font-size="8.9" fill="#262626" stroke="#262626" stroke-width="0.18" text-anchor="middle" >40</text>
<line x1="192.20" y1="495.55" x2="195.00" y2="495.55" stroke="#333" stroke-width="0.9" />
<text transform="translate(178.65,498.55) scale(1,1.06)" font-size="8.9" fill="#262626" stroke="#262626" stroke-width="0.18" text-anchor="start" >60</text>
<line x1="276.56" y1="555.90" x2="276.56" y2="558.30" stroke="#333" stroke-width="0.9" />
<text transform="translate(276.56,569.20) scale(1,1.06)" font-size="8.9" fill="#262626" stroke="#262626" stroke-width="0.18" text-anchor="middle" >60</text>
<line x1="192.20" y1="475.30" x2="195.00" y2="475.30" stroke="#333" stroke-width="0.9" />
<text transform="translate(178.65,478.30) scale(1,1.06)" font-size="8.9" fill="#262626" stroke="#262626" stroke-width="0.18" text-anchor="start" >80</text>
<line x1="303.68" y1="555.90" x2="303.68" y2="558.30" stroke="#333" stroke-width="0.9" />
<text transform="translate(303.68,569.20) scale(1,1.06)" font-size="8.9" fill="#262626" stroke="#262626" stroke-width="0.18" text-anchor="middle" >80</text>
<line x1="192.20" y1="455.05" x2="195.00" y2="455.05" stroke="#333" stroke-width="0.9" />
<text transform="translate(173.70,458.05) scale(1,1.06)" font-size="8.9" fill="#262626" stroke="#262626" stroke-width="0.18" text-anchor="start" >100</text>
<line x1="330.80" y1="555.90" x2="330.80" y2="558.30" stroke="#333" stroke-width="0.9" />
<text transform="translate(330.80,569.20) scale(1,1.06)" font-size="8.9" fill="#262626" stroke="#262626" stroke-width="0.18" text-anchor="middle" >100</text>
<line x1="192.20" y1="434.80" x2="195.00" y2="434.80" stroke="#333" stroke-width="0.9" />
<text transform="translate(173.70,437.80) scale(1,1.06)" font-size="8.9" fill="#262626" stroke="#262626" stroke-width="0.18" text-anchor="start" >120</text>
<line x1="357.92" y1="555.90" x2="357.92" y2="558.30" stroke="#333" stroke-width="0.9" />
<text transform="translate(357.92,569.20) scale(1,1.06)" font-size="8.9" fill="#262626" stroke="#262626" stroke-width="0.18" text-anchor="middle" >120</text>
<line x1="192.20" y1="414.55" x2="195.00" y2="414.55" stroke="#333" stroke-width="0.9" />
<text transform="translate(173.70,417.55) scale(1,1.06)" font-size="8.9" fill="#262626" stroke="#262626" stroke-width="0.18" text-anchor="start" >140</text>
<line x1="385.04" y1="555.90" x2="385.04" y2="558.30" stroke="#333" stroke-width="0.9" />
<text transform="translate(385.04,569.20) scale(1,1.06)" font-size="8.9" fill="#262626" stroke="#262626" stroke-width="0.18" text-anchor="middle" >140</text>
<line x1="192.20" y1="394.30" x2="195.00" y2="394.30" stroke="#333" stroke-width="0.9" />
<text transform="translate(173.70,397.30) scale(1,1.06)" font-size="8.9" fill="#262626" stroke="#262626" stroke-width="0.18" text-anchor="start" >160</text>
<line x1="412.16" y1="555.90" x2="412.16" y2="558.30" stroke="#333" stroke-width="0.9" />
<text transform="translate(412.16,569.20) scale(1,1.06)" font-size="8.9" fill="#262626" stroke="#262626" stroke-width="0.18" text-anchor="middle" >160</text>
<line x1="192.20" y1="374.05" x2="195.00" y2="374.05" stroke="#333" stroke-width="0.9" />
<text transform="translate(173.70,377.05) scale(1,1.06)" font-size="8.9" fill="#262626" stroke="#262626" stroke-width="0.18" text-anchor="start" >180</text>
<line x1="439.28" y1="555.90" x2="439.28" y2="558.30" stroke="#333" stroke-width="0.9" />
<text transform="translate(439.28,569.20) scale(1,1.06)" font-size="8.9" fill="#262626" stroke="#262626" stroke-width="0.18" text-anchor="middle" >180</text>
<line x1="192.20" y1="353.80" x2="195.00" y2="353.80" stroke="#333" stroke-width="0.9" />
<text transform="translate(173.70,356.80) scale(1,1.06)" font-size="8.9" fill="#262626" stroke="#262626" stroke-width="0.18" text-anchor="start" >200</text>
<line x1="466.40" y1="555.90" x2="466.40" y2="558.30" stroke="#333" stroke-width="0.9" />
<text transform="translate(466.40,569.20) scale(1,1.06)" font-size="8.9" fill="#262626" stroke="#262626" stroke-width="0.18" text-anchor="middle" >200</text>
<line x1="192.20" y1="333.55" x2="195.00" y2="333.55" stroke="#333" stroke-width="0.9" />
<text transform="translate(173.70,336.55) scale(1,1.06)" font-size="8.9" fill="#262626" stroke="#262626" stroke-width="0.18" text-anchor="start" >220</text>
<line x1="493.52" y1="555.90" x2="493.52" y2="558.30" stroke="#333" stroke-width="0.9" />
<text transform="translate(493.52,569.20) scale(1,1.06)" font-size="8.9" fill="#262626" stroke="#262626" stroke-width="0.18" text-anchor="middle" >220</text>
<line x1="192.20" y1="313.30" x2="195.00" y2="313.30" stroke="#333" stroke-width="0.9" />
<text transform="translate(173.70,316.30) scale(1,1.06)" font-size="8.9" fill="#262626" stroke="#262626" stroke-width="0.18" text-anchor="start" >240</text>
<line x1="520.64" y1="555.90" x2="520.64" y2="558.30" stroke="#333" stroke-width="0.9" />
<text transform="translate(520.64,569.20) scale(1,1.06)" font-size="8.9" fill="#262626" stroke="#262626" stroke-width="0.18" text-anchor="middle" >240</text>
<text transform="translate(261.70,582.10) scale(1,1.06)" font-size="8.9" fill="#262626" stroke="#262626" stroke-width="0.18" text-anchor="start" >True concentration of paracetamol in pure urine sample (µM)</text>
<text transform="translate(56.77,423.70) scale(1,1.06)" font-size="8.9" fill="#262626" stroke="#262626" stroke-width="0.18" text-anchor="start" >Determined concentration</text>
<text transform="translate(58.35,433.70) scale(1,1.06)" font-size="8.9" fill="#262626" stroke="#262626" stroke-width="0.18" text-anchor="start" >in pure urine sample (µM)</text>
<text x="204.70" y="322.20" font-size="13.3" fill="#1a1a1a" text-anchor="start" font-weight="bold" >c</text>
<circle cx="208.9" cy="332.80" r="2.3" fill="#3bb6c1"/>
<circle cx="208.9" cy="344.75" r="2.3" fill="#973a95"/>
<circle cx="208.9" cy="356.70" r="2.3" fill="#c2bb1d"/>
<text transform="translate(219.05,335.50) scale(1,1.06)" font-size="8.9" fill="#262626" stroke="#262626" stroke-width="0.18" text-anchor="start" >Urine IV</text>
<text transform="translate(218.55,347.50) scale(1,1.06)" font-size="8.9" fill="#262626" stroke="#262626" stroke-width="0.18" text-anchor="start" >Urine V</text>
<text transform="translate(218.15,359.70) scale(1,1.06)" font-size="8.9" fill="#262626" stroke="#262626" stroke-width="0.18" text-anchor="start" >Urine VI</text>
<circle cx="276.56" cy="489.98" r="3.1" fill="#3bb6c1" fill-opacity="0.75"/>
<circle cx="276.56" cy="481.88" r="3.1" fill="#973a95" fill-opacity="0.68"/>
<circle cx="276.56" cy="494.74" r="3.1" fill="#c2bb1d" fill-opacity="0.78"/>
<circle cx="330.80" cy="436.12" r="3.1" fill="#3bb6c1" fill-opacity="0.75"/>
<circle cx="330.80" cy="447.46" r="3.1" fill="#973a95" fill-opacity="0.68"/>
<circle cx="330.80" cy="446.75" r="3.1" fill="#c2bb1d" fill-opacity="0.78"/>
<circle cx="371.48" cy="401.08" r="3.1" fill="#3bb6c1" fill-opacity="0.75"/>
<circle cx="371.48" cy="409.89" r="3.1" fill="#973a95" fill-opacity="0.68"/>
<circle cx="371.48" cy="414.95" r="3.1" fill="#c2bb1d" fill-opacity="0.78"/>
<circle cx="412.16" cy="377.90" r="3.1" fill="#3bb6c1" fill-opacity="0.75"/>
<circle cx="412.16" cy="386.71" r="3.1" fill="#973a95" fill-opacity="0.68"/>
<circle cx="412.16" cy="389.03" r="3.1" fill="#c2bb1d" fill-opacity="0.78"/>
<circle cx="466.40" cy="322.72" r="3.1" fill="#3bb6c1" fill-opacity="0.75"/>
<circle cx="466.40" cy="333.25" r="3.1" fill="#973a95" fill-opacity="0.68"/>
<circle cx="466.40" cy="316.94" r="3.1" fill="#c2bb1d" fill-opacity="0.78"/>
<line x1="276.56" y1="495.33" x2="276.56" y2="481.88" stroke="#973a95" stroke-width="1.05" stroke-dasharray="1.6 1.6"/>
<line x1="276.56" y1="495.33" x2="276.56" y2="494.74" stroke="#c2bb1d" stroke-width="1.1" />
<line x1="276.56" y1="495.33" x2="276.56" y2="489.98" stroke="#3bb6c1" stroke-width="1.05" stroke-dasharray="1.1 2.1" stroke-dashoffset="1.6"/>
<line x1="330.80" y1="454.48" x2="330.80" y2="447.46" stroke="#973a95" stroke-width="1.05" stroke-dasharray="1.6 1.6"/>
<line x1="330.80" y1="454.48" x2="330.80" y2="446.75" stroke="#c2bb1d" stroke-width="1.1" />
<line x1="330.80" y1="454.48" x2="330.80" y2="436.12" stroke="#3bb6c1" stroke-width="1.05" stroke-dasharray="1.1 2.1" stroke-dashoffset="1.6"/>
<line x1="371.48" y1="423.85" x2="371.48" y2="409.89" stroke="#973a95" stroke-width="1.05" stroke-dasharray="1.6 1.6"/>
<line x1="371.48" y1="423.85" x2="371.48" y2="414.95" stroke="#c2bb1d" stroke-width="1.1" />
<line x1="371.48" y1="423.85" x2="371.48" y2="401.08" stroke="#3bb6c1" stroke-width="1.05" stroke-dasharray="1.1 2.1" stroke-dashoffset="1.6"/>
<line x1="412.16" y1="393.21" x2="412.16" y2="386.71" stroke="#973a95" stroke-width="1.05" stroke-dasharray="1.6 1.6"/>
<line x1="412.16" y1="393.21" x2="412.16" y2="389.03" stroke="#c2bb1d" stroke-width="1.1" />
<line x1="412.16" y1="393.21" x2="412.16" y2="377.90" stroke="#3bb6c1" stroke-width="1.05" stroke-dasharray="1.1 2.1" stroke-dashoffset="1.6"/>
<line x1="466.40" y1="352.37" x2="466.40" y2="333.25" stroke="#973a95" stroke-width="1.05" stroke-dasharray="1.6 1.6"/>
<line x1="466.40" y1="352.37" x2="466.40" y2="316.94" stroke="#c2bb1d" stroke-width="1.1" />
<line x1="466.40" y1="352.37" x2="466.40" y2="322.72" stroke="#3bb6c1" stroke-width="1.05" stroke-dasharray="1.1 2.1" stroke-dashoffset="1.6"/>
<line x1="195.20" y1="556.30" x2="520.40" y2="311.40" stroke="#6e6e6e" stroke-width="1.9" stroke-dasharray="5.6 2.2"/>
<text transform="translate(229.35,476.10) scale(1,1.06)" font-size="8.9" fill="#973a95" stroke="#973a95" stroke-width="0.18" text-anchor="start" >13 µM (22%)</text>
<text transform="translate(230.55,492.10) scale(1,1.06)" font-size="8.9" fill="#3bb6c1" stroke="#3bb6c1" stroke-width="0.18" text-anchor="start" >5 µM (9%)</text>
<text transform="translate(279.85,509.80) scale(1,1.06)" font-size="8.9" fill="#c2bb1d" stroke="#c2bb1d" stroke-width="0.18" text-anchor="start" >0 µM (0%)</text>
<text transform="translate(284.65,430.10) scale(1,1.06)" font-size="8.9" fill="#3bb6c1" stroke="#3bb6c1" stroke-width="0.18" text-anchor="start" >18 µM (18%)</text>
<text transform="translate(284.45,445.70) scale(1,1.06)" font-size="8.9" fill="#c2bb1d" stroke="#c2bb1d" stroke-width="0.18" text-anchor="start" >8 µM (8%)</text>
<text transform="translate(336.15,458.20) scale(1,1.06)" font-size="8.9" fill="#973a95" stroke="#973a95" stroke-width="0.18" text-anchor="start" >7 µM (7%)</text>
<text transform="translate(325.25,394.50) scale(1,1.06)" font-size="8.9" fill="#3bb6c1" stroke="#3bb6c1" stroke-width="0.18" text-anchor="start" >23 µM (17%)</text>
<text transform="translate(309.10,406.00) scale(1,1.06)" font-size="8.9" fill="#973a95" stroke="#973a95" stroke-width="0.18" text-anchor="start" >14 µM (11%)</text>
<text transform="translate(325.30,416.60) scale(1,1.06)" font-size="8.9" fill="#c2bb1d" stroke="#c2bb1d" stroke-width="0.18" text-anchor="start" >9 µM (7%)</text>
<text transform="translate(392.95,370.30) scale(1,1.06)" font-size="8.9" fill="#3bb6c1" stroke="#3bb6c1" stroke-width="0.18" text-anchor="start" >16 µM (10%)</text>
<text transform="translate(427.25,390.30) scale(1,1.06)" font-size="8.9" fill="#973a95" stroke="#973a95" stroke-width="0.18" text-anchor="start" >7 µM (4%)</text>
<text transform="translate(419.25,401.40) scale(1,1.06)" font-size="8.9" fill="#c2bb1d" stroke="#c2bb1d" stroke-width="0.18" text-anchor="start" >5 µM (3%)</text>
<text transform="translate(460.05,311.60) scale(1,1.06)" font-size="8.9" fill="#c2bb1d" stroke="#c2bb1d" stroke-width="0.18" text-anchor="start" >36 µM (18%)</text>
<text transform="translate(406.35,323.00) scale(1,1.06)" font-size="8.9" fill="#3bb6c1" stroke="#3bb6c1" stroke-width="0.18" text-anchor="start" >30 µM (15%)</text>
<text transform="translate(412.15,336.20) scale(1,1.06)" font-size="8.9" fill="#973a95" stroke="#973a95" stroke-width="0.18" text-anchor="start" >20 µM (10%)</text>
</svg>
</body></html>
